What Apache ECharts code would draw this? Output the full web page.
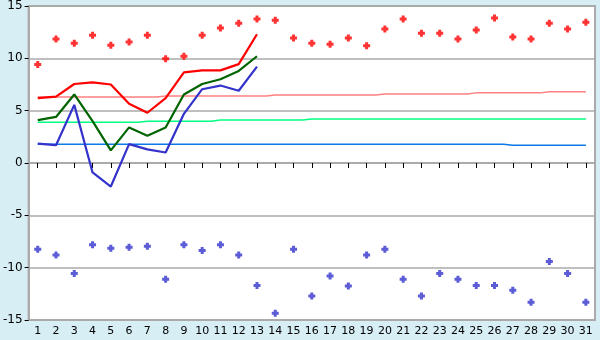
<!DOCTYPE html>
<html><head><meta charset="utf-8">
<script src="https://cdn.jsdelivr.net/npm/echarts@6/dist/echarts.min.js"></script>
<style>html,body{margin:0;padding:0;background:#D8EEF5;}#c{width:600px;height:340px;}</style>
</head><body><div id="c"></div>
<script>
var days = ['1','2','3','4','5','6','7','8','9','10','11','12','13','14','15','16','17','18','19','20','21','22','23','24','25','26','27','28','29','30','31'];
var maxPoints = [9.4,11.85,11.45,12.2,11.25,11.55,12.2,9.95,10.2,12.2,12.9,13.35,13.75,13.65,11.95,11.45,11.35,11.95,11.2,12.8,13.75,12.4,12.4,11.85,12.7,13.85,12.05,11.85,13.35,12.8,13.45];
var minPoints = [-8.25,-8.8,-10.55,-7.8,-8.15,-8.05,-7.95,-11.1,-7.8,-8.35,-7.8,-8.8,-11.7,-14.35,-8.25,-12.7,-10.8,-11.75,-8.8,-8.25,-11.1,-12.7,-10.55,-11.1,-11.7,-11.7,-12.15,-13.3,-9.4,-10.55,-13.3];
var maxLine = [6.2,6.35,7.55,7.7,7.5,5.65,4.8,6.2,8.65,8.85,8.85,9.45,12.3];
var meanLine = [4.1,4.4,6.55,4.0,1.2,3.4,2.6,3.4,6.55,7.55,8.0,8.8,10.2];
var minLine = [1.85,1.7,5.55,-0.9,-2.25,1.8,1.3,1.0,4.7,7.05,7.4,6.9,9.2];
var normalMax = [6.3,6.3,6.3,6.3,6.3,6.3,6.3,6.4,6.4,6.4,6.4,6.4,6.4,6.5,6.5,6.5,6.5,6.5,6.5,6.6,6.6,6.6,6.6,6.6,6.7,6.7,6.7,6.7,6.8,6.8,6.8];
var normalMean = [3.9,3.9,3.9,3.9,3.9,3.9,4.0,4.0,4.0,4.0,4.1,4.1,4.1,4.1,4.1,4.2,4.2,4.2,4.2,4.2,4.2,4.2,4.2,4.2,4.2,4.2,4.2,4.2,4.2,4.2,4.2];
var normalMin = [1.8,1.8,1.8,1.8,1.8,1.8,1.8,1.8,1.8,1.8,1.8,1.8,1.8,1.8,1.8,1.8,1.8,1.8,1.8,1.8,1.8,1.8,1.8,1.8,1.8,1.8,1.7,1.7,1.7,1.7,1.7];
var yTicks = {min:-15, max:15, interval:5};

var plus = 'path://M2,0H5V2H7V5H5V7H2V5H0V2H2Z';
var chart = echarts.init(document.getElementById('c'));
function stepLine(data, color){
  return {type:'line', data:data, step:'middle', symbol:'none', lineStyle:{color:color, width:1.5}, silent:true, z:2};
}
function mainLine(data, color){
  return {type:'line', data:data, symbol:'none', lineStyle:{color:color, width:2.2}, silent:true, z:3};
}
chart.setOption({
  animation:false,
  backgroundColor:'#D8EEF5',
  grid:{left:26, right:5, top:5, bottom:20, show:true, backgroundColor:'#FFFFFF', borderColor:'#AAAAAA', borderWidth:2},
  xAxis:{type:'category', data:days, boundaryGap:true,
    axisLine:{show:true, lineStyle:{color:'#AAAAAA', width:2}},
    axisTick:{show:true, alignWithLabel:true, length:5, lineStyle:{color:'#000000'}},
    axisLabel:{color:'#000000', fontFamily:'DejaVu Sans', fontSize:11, margin:6, interval:0},
    splitLine:{show:false}},
  yAxis:{type:'value', min:yTicks.min, max:yTicks.max, interval:yTicks.interval,
    axisLine:{show:true, lineStyle:{color:'#AAAAAA', width:2}},
    axisTick:{show:true, length:4, lineStyle:{color:'#000000'}},
    axisLabel:{color:'#000000', fontFamily:'DejaVu Sans', fontSize:12, margin:6},
    splitLine:{show:true, lineStyle:{color:'#AAAAAA', width:1.5}}},
  series:[
    stepLine(normalMax,'#FF8080'),
    stepLine(normalMean,'#00FF80'),
    stepLine(normalMin,'#0A7AE6'),
    mainLine(maxLine,'#FF0000'),
    mainLine(meanLine,'#006400'),
    mainLine(minLine,'#3333CC'),
    {type:'scatter', data:maxPoints, symbol:plus, symbolSize:7, itemStyle:{color:'#FF0000'}, z:4},
    {type:'scatter', data:minPoints, symbol:plus, symbolSize:7, itemStyle:{color:'#3333CC'}, z:4}
  ]
});
</script></body></html>
